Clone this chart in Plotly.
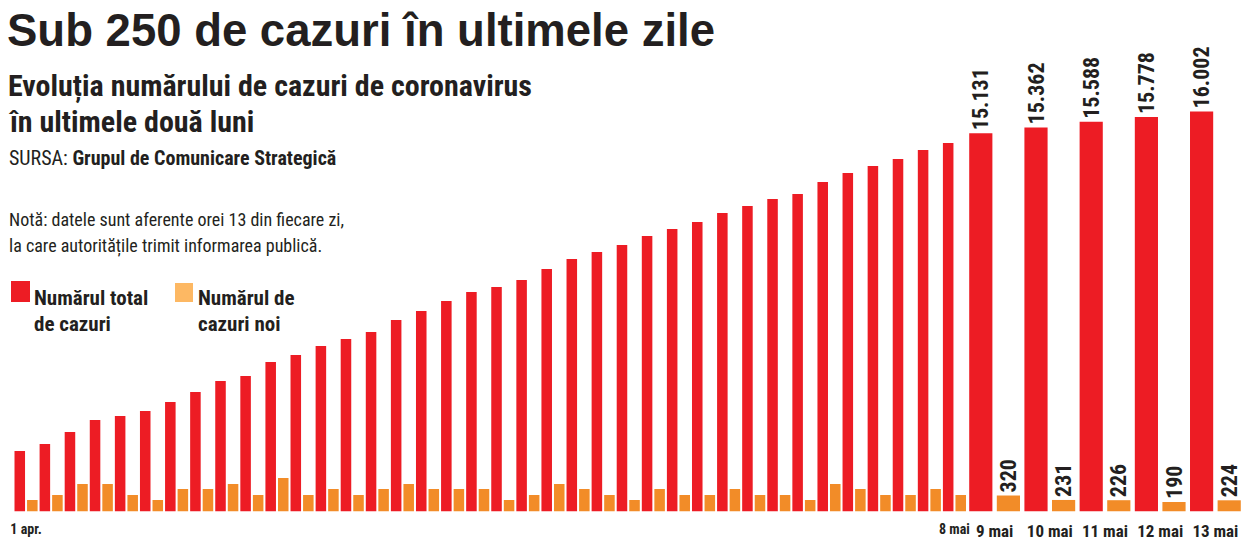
import plotly.graph_objects as go

# ---------------- data ----------------
days_1 = ["1 apr.", "2 apr.", "3 apr.", "4 apr.", "5 apr.", "6 apr.", "7 apr.", "8 apr.",
          "9 apr.", "10 apr.", "11 apr.", "12 apr.", "13 apr.", "14 apr.", "15 apr.",
          "16 apr.", "17 apr.", "18 apr.", "19 apr.", "20 apr.", "21 apr.", "22 apr.",
          "23 apr.", "24 apr.", "25 apr.", "26 apr.", "27 apr.", "28 apr.", "29 apr.",
          "30 apr.", "1 mai", "2 mai", "3 mai", "4 mai", "5 mai", "6 mai", "7 mai", "8 mai"]
total_1 = [2420, 2700, 3180, 3660, 3820, 4020, 4380, 4780, 5220, 5420, 5980, 6260, 6620,
           6900, 7180, 7660, 8020, 8420, 8780, 8980, 9260, 9700, 10100, 10380, 10660,
           11020, 11300, 11580, 11940, 12220, 12500, 12700, 13180, 13540, 13820, 14100,
           14460, 14740]
new_1 = [230, 330, 550, 550, 330, 230, 450, 450, 550, 330, 670, 330, 450,
         330, 450, 550, 450, 450, 450, 230, 330, 550, 450, 330, 230,
         450, 330, 330, 450, 330, 330, 230, 550, 450, 330, 330, 450, 330]
ticks_1 = ["1 apr.", "8 mai"]

days_2 = ["9 mai", "10 mai", "11 mai", "12 mai", "13 mai"]
total_2 = [15131, 15362, 15588, 15778, 16002]
new_2 = [320, 231, 226, 190, 224]

# ---------------- style ----------------
W, H = 1253, 551
RED = "#ED1C24"
ORANGE = "#F28C28"
ORANGE_LEG = "#FDB863"
INK = "#231F20"
FC = "Noto Sans Condensed, Noto Sans ExtraCondensed, Roboto Condensed, Liberation Sans Narrow, Roboto, sans-serif"
FT = "Liberation Sans, Arial, sans-serif"

BASE_PX = 511.5          # baseline pixel row
RED_PER_PX = 40.0
NEW_PER_PX = 20.0
plot_h = BASE_PX
y_dom = [(H - BASE_PX) / H, 1.0]

BW = 0.42
fig = go.Figure()

def bars(x, y, xa, ya, color, offset, text=False, name=""):
    kw = {}
    if text:
        kw = dict(texttemplate="%{y:,}", textposition="outside", textangle=-90,
                  textfont=dict(family=FC, size=22, color=INK, weight="bold"),
                  constraintext="none", cliponaxis=False)
    fig.add_trace(go.Bar(x=x, y=y, xaxis=xa, yaxis=ya, marker=dict(color=color, line=dict(width=0)),
                         width=BW, offset=offset, showlegend=False, name=name,
                         hoverinfo="skip", **kw))

bars(days_1, total_1, "x", "y", RED, -0.46)
bars(days_1, new_1, "x", "y2", ORANGE, 0.04)
bars(days_2, total_2, "x2", "y", RED, -0.46, text=True)
bars(days_2, new_2, "x2", "y2", ORANGE, 0.04, text=True)

d1 = [13.5 / W, 967 / W]
d2 = [967 / W, 1243 / W]

fig.update_layout(
    width=W, height=H, margin=dict(l=0, r=0, t=0, b=0),
    paper_bgcolor="white", plot_bgcolor="white",
    barmode="overlay", separators=",.",
    xaxis=dict(domain=d1, type="category", tickvals=ticks_1, showgrid=False, zeroline=False,
               showline=False, ticks="", tickangle=0, ticklabelstandoff=7, automargin=False,
               tickfont=dict(family=FC, size=14, color=INK, weight="bold"),
               anchor="y", fixedrange=True),
    xaxis2=dict(domain=d2, type="category", showgrid=False, zeroline=False, showline=False,
                ticks="", tickangle=0, ticklabelstandoff=7, automargin=False,
                tickfont=dict(family=FC, size=17, color=INK, weight="bold"),
                anchor="y"),
    yaxis=dict(domain=y_dom, range=[0, plot_h * RED_PER_PX], visible=False),
    yaxis2=dict(range=[0, plot_h * NEW_PER_PX], overlaying="y", visible=False),
)

def ann(text, px_x, px_y, size, family=FC, weight="normal"):
    fig.add_annotation(text=text, x=px_x / W, y=1 - px_y / H, xref="paper", yref="paper",
                       xanchor="left", yanchor="middle", showarrow=False, borderpad=0,
                       font=dict(family=family, size=size, color=INK, weight=weight))

ann("Sub 250 de cazuri în ultimele zile", 6, 30.5, 45.5, family=FT, weight="bold")
ann("Evoluția numărului de cazuri de coronavirus", 7, 86, 30, weight="bold")
ann("în ultimele două luni", 7, 121, 30, weight="bold")
ann("SURSA: <b>Grupul de Comunicare Strategică</b>", 8, 158, 20)
ann("Notă: datele sunt aferente orei 13 din fiecare zi,", 8, 220, 18)
ann("la care autoritățile trimit informarea publică.", 8, 246, 18)
ann("Numărul total", 33, 298, 21, weight="bold")
ann("de cazuri", 33, 324, 21, weight="bold")
ann("Numărul de", 197, 298, 21, weight="bold")
ann("cazuri noi", 197, 324, 21, weight="bold")

fig.add_shape(type="rect", xref="paper", yref="paper", x0=11 / W, x1=30 / W,
              y0=1 - 302 / H, y1=1 - 281 / H, fillcolor=RED, line=dict(width=0))
fig.add_shape(type="rect", xref="paper", yref="paper", x0=175 / W, x1=193 / W,
              y0=1 - 302 / H, y1=1 - 283 / H, fillcolor=ORANGE_LEG, line=dict(width=0))

fig.write_html("out.html", config={"displayModeBar": False},
               post_script="document.body.style.margin='0';")
